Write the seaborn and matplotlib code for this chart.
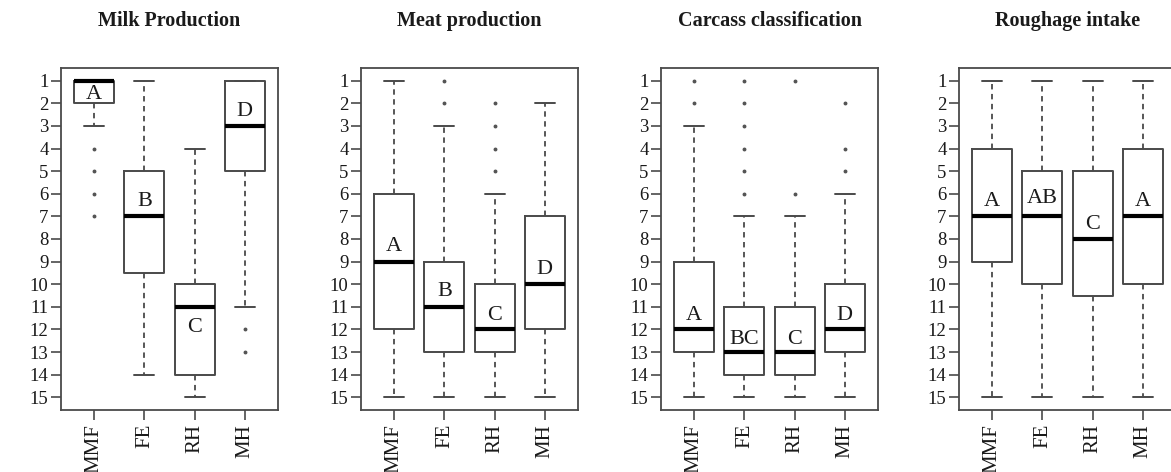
import numpy as np
import matplotlib
matplotlib.use("Agg")
import matplotlib.pyplot as plt
import seaborn as sns

# ---------------- data ----------------
groups = ["MMF", "FE", "RH", "MH"]
titles = ["Milk Production", "Meat production", "Carcass classification", "Roughage intake"]

# Milk Production
milk_whislo = [1, 1, 4, 1]
milk_q1 = [1, 5, 10, 1]
milk_med = [1, 7, 11, 3]
milk_q3 = [2, 9.5, 14, 5]
milk_whishi = [3, 14, 15, 11]
milk_fliers = [[4, 5, 6, 7], [], [], [12, 13]]
milk_letters = ["A", "B", "C", "D"]
milk_letter_y = [1.62, 6.35, 11.9, 2.36]

# Meat production
meat_whislo = [1, 3, 6, 2]
meat_q1 = [6, 9, 10, 7]
meat_med = [9, 11, 12, 10]
meat_q3 = [12, 13, 13, 12]
meat_whishi = [15, 15, 15, 15]
meat_fliers = [[], [1, 2], [2, 3, 4, 5], []]
meat_letters = ["A", "B", "C", "D"]
meat_letter_y = [8.34, 10.33, 11.4, 9.37]

# Carcass classification
carc_whislo = [3, 7, 7, 6]
carc_q1 = [9, 11, 11, 10]
carc_med = [12, 13, 13, 12]
carc_q3 = [13, 14, 14, 13]
carc_whishi = [15, 15, 15, 15]
carc_fliers = [[1, 2], [1, 2, 3, 4, 5, 6], [1, 6], [2, 4, 5]]
carc_letters = ["A", "BC", "C", "D"]
carc_letter_y = [11.37, 12.45, 12.45, 11.37]

# Roughage intake
rough_whislo = [1, 1, 1, 1]
rough_q1 = [4, 5, 5, 4]
rough_med = [7, 7, 8, 7]
rough_q3 = [9, 10, 10.5, 10]
rough_whishi = [15, 15, 15, 15]
rough_fliers = [[], [], [], []]
rough_letters = ["A", "AB", "C", "A"]
rough_letter_y = [6.35, 6.23, 7.34, 6.35]

y_ticks = list(range(1, 16))

panels = [
    (milk_whislo, milk_q1, milk_med, milk_q3, milk_whishi, milk_fliers, milk_letters, milk_letter_y),
    (meat_whislo, meat_q1, meat_med, meat_q3, meat_whishi, meat_fliers, meat_letters, meat_letter_y),
    (carc_whislo, carc_q1, carc_med, carc_q3, carc_whishi, carc_fliers, carc_letters, carc_letter_y),
    (rough_whislo, rough_q1, rough_med, rough_q3, rough_whishi, rough_fliers, rough_letters, rough_letter_y),
]

# ---------------- style ----------------
sns.set_theme(style="white")
plt.rcParams["font.family"] = ["Liberation Serif", "DejaVu Serif"]
plt.rcParams["axes.linewidth"] = 1.3

EDGE = "#4a4a4a"
TXT = "#1a1a1a"

fig = plt.figure(figsize=(11.71, 4.72), dpi=100)
lefts_px = [61, 361, 661, 959]
W, H = 1171, 472
ax_w, ax_top, ax_bot = 217, 68, 410

for i, (wlo, q1, med, q3, whi, fl, letters, ly) in enumerate(panels):
    ax = fig.add_axes([lefts_px[i] / W, (H - ax_bot) / H, ax_w / W, (ax_bot - ax_top) / H])
    stats = []
    for j, g in enumerate(groups):
        stats.append(dict(label=g, whislo=wlo[j], q1=q1[j], med=med[j],
                          q3=q3[j], whishi=whi[j], fliers=fl[j]))
    positions = np.arange(1, len(groups) + 1)
    ax.bxp(stats, positions=positions, widths=0.8, showfliers=True,
           boxprops=dict(color=EDGE, linewidth=1.4),
           medianprops=dict(color="black", linewidth=3.0, solid_capstyle="butt"),
           whiskerprops=dict(color=EDGE, linewidth=1.3, linestyle=(0, (3, 2.5))),
           capprops=dict(color=EDGE, linewidth=1.4),
           flierprops=dict(marker="o", markersize=1.8, markerfacecolor="#555555",
                           markeredgecolor="#555555", linestyle="none"),
           capwidths=0.4)
    for j, t in enumerate(letters):
        ax.text(positions[j], ly[j], t, ha="center", va="center",
                fontsize=16, color=TXT)
    ax.set_ylim(15.56, 0.44)
    ax.set_xlim(0.34, 4.66)
    ax.set_yticks(y_ticks)
    ax.set_yticklabels([str(v) for v in y_ticks], fontsize=13.5, color=TXT)
    ax.set_xticks(positions)
    ax.set_xticklabels(groups, rotation=90, fontsize=15, color=TXT, va="top")
    ax.tick_params(axis="y", which="both", length=7, width=1.2, color=EDGE,
                   direction="out", left=True, pad=2)
    ax.tick_params(axis="x", which="both", length=7, width=1.2, color=EDGE,
                   direction="out", bottom=True, pad=3)
    for s in ax.spines.values():
        s.set_visible(True)
        s.set_color(EDGE)
        s.set_linewidth(1.3)
    ax.set_title(titles[i], fontsize=14.5, fontweight="bold", color=TXT,
                 y=(ax_bot - 21) / (ax_bot - ax_top), va="center", pad=0)
    ax.set_xlabel("")
    ax.set_ylabel("")
    ax.grid(False)

fig.savefig("out.png", dpi=100)
